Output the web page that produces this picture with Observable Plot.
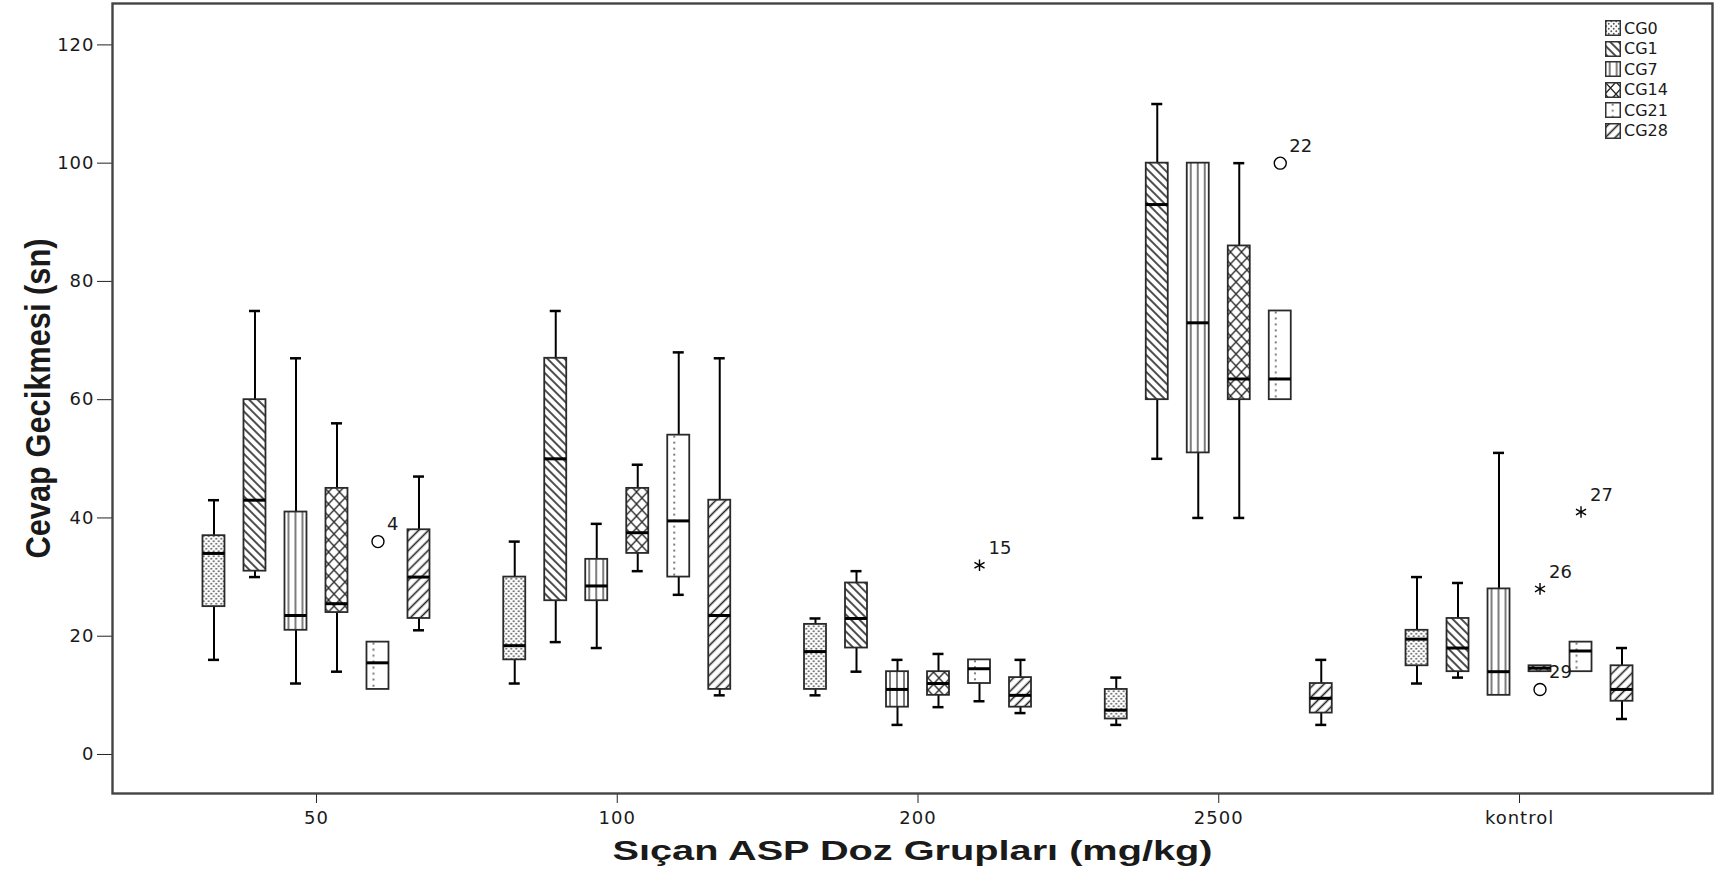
<!DOCTYPE html>
<html>
<head>
<meta charset="utf-8">
<script src="https://cdn.jsdelivr.net/npm/d3@7"></script>
<script src="https://cdn.jsdelivr.net/npm/@observablehq/plot@0.6"></script>
<style>
  body { margin: 0; background: #fff; overflow: hidden; }
  #wrap { position: relative; width: 1716px; height: 881px; }
  #wrap svg text { fill: #1a1a1a; }
  g[aria-label="y-axis tick label"] text,
  g[aria-label="x-axis tick label"] text { letter-spacing: 1px; }
  #legend { position: absolute; left: 1605px; top: 18px; font-family: "DejaVu Sans", sans-serif; font-size: 16px; color: #1a1a1a; }
  #legend .row { display: flex; align-items: center; height: 20.5px; }
  #legend svg { margin-right: 3px; }
</style>
</head>
<body>
<svg width="0" height="0" style="position:absolute">
  <defs>
    <!-- CG0: fine dot screen -->
    <pattern id="pat-dots" patternUnits="userSpaceOnUse" width="5" height="5">
      <rect width="5" height="5" fill="#fff"/>
      <circle cx="1.25" cy="1.25" r="0.95" fill="#555"/>
      <circle cx="3.75" cy="3.75" r="0.95" fill="#555"/>
    </pattern>
    <!-- CG1: back-slash hatching -->
    <pattern id="pat-back" patternUnits="userSpaceOnUse" width="6" height="6" patternTransform="rotate(-45)">
      <rect width="6" height="6" fill="#fff"/>
      <line x1="3" y1="-1" x2="3" y2="7" stroke="#222" stroke-width="1.6"/>
    </pattern>
    <!-- CG7: vertical stripes anchored to each box -->
    <pattern id="pat-vert" patternUnits="objectBoundingBox" x="0" y="0" width="1" height="1">
      <rect width="100" height="2000" fill="#fff"/>
      <line x1="4" y1="0" x2="4" y2="2000" stroke="#666" stroke-width="1.7"/>
      <line x1="11" y1="0" x2="11" y2="2000" stroke="#666" stroke-width="1.7"/>
      <line x1="18" y1="0" x2="18" y2="2000" stroke="#666" stroke-width="1.7"/>
    </pattern>
    <!-- CG14: diamond cross-hatch -->
    <pattern id="pat-cross" patternUnits="userSpaceOnUse" width="11" height="12">
      <rect width="11" height="12" fill="#fff"/>
      <path d="M0,0L11,12M11,0L0,12" stroke="#222" stroke-width="1.3" fill="none"/>
    </pattern>
    <!-- CG21: a single dotted line inside the box -->
    <pattern id="pat-dotline" patternUnits="objectBoundingBox" x="0" y="0" width="1" height="1">
      <rect width="100" height="2000" fill="#fff"/>
      <line x1="7" y1="1" x2="7" y2="2000" stroke="#666" stroke-width="1.7" stroke-dasharray="2 4"/>
    </pattern>
    <!-- CG28: forward-slash hatching -->
    <pattern id="pat-fwd" patternUnits="userSpaceOnUse" width="7" height="7" patternTransform="rotate(45)">
      <rect width="7" height="7" fill="#fff"/>
      <line x1="3.5" y1="-1" x2="3.5" y2="8" stroke="#222" stroke-width="1.6"/>
    </pattern>
  </defs>
</svg>
<div id="wrap"><div id="legend"></div></div>
<script>
// Dose groups and measurement days
const groups = ["50", "100", "200", "2500", "kontrol"];
const series = ["CG0", "CG1", "CG7", "CG14", "CG21", "CG28"];

// Box-plot summaries (seconds); rows follow `series`, columns follow `groups`
const whiskerLow = [
  [16, 12, 10, 5, 12],
  [30, 19, 14, 50, 13],
  [12, 18, 5, 40, 10],
  [14, 31, 8, 40, 14],
  [11, 27, 9, 60, 14],
  [21, 10, 7, 5, 6]
];
const quartile1 = [
  [25, 16, 11, 6, 15],
  [31, 26, 18, 60, 14],
  [21, 26, 8, 51, 10],
  [24, 34, 10, 60, 14],
  [11, 30, 12, 60, 14],
  [23, 11, 8, 7, 9]
];
const medians = [
  [34, 18.4, 17.4, 7.5, 19.5],
  [43, 50, 23, 93, 18],
  [23.5, 28.5, 11, 73, 14],
  [25.5, 37.5, 12, 63.5, 14.6],
  [15.5, 39.5, 14.5, 63.5, 17.5],
  [30, 23.5, 10, 9.5, 11]
];
const quartile3 = [
  [37, 30, 22, 11, 21],
  [60, 67, 29, 100, 23],
  [41, 33, 14, 100, 28],
  [45, 45, 14, 86, 15],
  [19, 54, 16, 75, 19],
  [38, 43, 13, 12, 15]
];
const whiskerHigh = [
  [43, 36, 23, 13, 30],
  [75, 75, 31, 110, 29],
  [67, 39, 16, 100, 51],
  [56, 49, 17, 100, 15],
  [19, 68, 16, 75, 19],
  [47, 67, 16, 16, 18]
];

// Individually flagged cases
const outlierGroup  = ["50", "200", "2500", "kontrol", "kontrol", "kontrol"];
const outlierSeries = ["CG21", "CG21", "CG21", "CG14", "CG14", "CG21"];
const outlierValue  = [36, 32, 100, 28, 11, 41];
const outlierLabel  = ["4", "15", "22", "26", "29", "27"];
const outlierKind   = ["circle", "star", "circle", "star", "circle", "star"];

const yTicks = [0, 20, 40, 60, 80, 100, 120];
const yTitle = "Cevap Gecikmesi (sn)";
const xTitle = "Sıçan ASP Doz Grupları (mg/kg)";

const fills = ["url(#pat-dots)", "url(#pat-back)", "url(#pat-vert)", "url(#pat-cross)", "url(#pat-dotline)", "url(#pat-fwd)"];

// geometry of the grouped boxes
const xRange = [165.6, 1669.4];
const bandW = (xRange[1] - xRange[0]) / groups.length;
const slot = 41, boxW = 22, capW = 11;
const boxInset = (bandW - boxW) / 2;
const capInset = (bandW - capW) / 2;
const offset = i => (i - (series.length - 1) / 2) * slot;

const marks = [];
series.forEach((s, i) => {
  const rows = groups.map((g, j) => ({
    group: g, series: s,
    lo: whiskerLow[i][j], q1: quartile1[i][j], med: medians[i][j],
    q3: quartile3[i][j], hi: whiskerHigh[i][j]
  }));
  const dx = offset(i);
  const low = rows.filter(r => r.lo < r.q1);
  const high = rows.filter(r => r.hi > r.q3);
  marks.push(
    Plot.ruleX(low, {x: "group", y1: "lo", y2: "q1", dx, stroke: "#000", strokeWidth: 2}),
    Plot.ruleX(high, {x: "group", y1: "q3", y2: "hi", dx, stroke: "#000", strokeWidth: 2}),
    Plot.tickY(low, {x: "group", y: "lo", dx, insetLeft: capInset, insetRight: capInset, stroke: "#000", strokeWidth: 2.5}),
    Plot.tickY(high, {x: "group", y: "hi", dx, insetLeft: capInset, insetRight: capInset, stroke: "#000", strokeWidth: 2.5}),
    Plot.barY(rows, {x: "group", y1: "q1", y2: "q3", dx, insetLeft: boxInset, insetRight: boxInset,
      fill: fills[i], stroke: "#2a2a2a", strokeWidth: 1.8}),
    Plot.tickY(rows, {x: "group", y: "med", dx, insetLeft: boxInset, insetRight: boxInset, stroke: "#000", strokeWidth: 3})
  );
});

outlierValue.forEach((v, k) => {
  const d = [{group: outlierGroup[k], value: v, label: outlierLabel[k]}];
  const dx = offset(series.indexOf(outlierSeries[k]));
  const star = outlierKind[k] === "star";
  marks.push(
    Plot.dot(d, {x: "group", y: "value", dx, r: star ? 5.5 : 6,
      symbol: star ? "asterisk" : "circle",
      fill: "none", stroke: "#000", strokeWidth: 1.4}),
    Plot.text(d, {x: "group", y: "value", text: "label", dx: dx + 9, dy: -17, textAnchor: "start",
      fontSize: 18, fontFamily: "DejaVu Sans"})
  );
});

const chart = Plot.plot({
  width: 1716,
  height: 881,
  marginLeft: 112,
  marginRight: 4,
  marginTop: 3,
  marginBottom: 88,
  style: {fontFamily: "DejaVu Sans, sans-serif", fontSize: "18px", background: "#fff"},
  x: {type: "band", domain: groups, range: xRange, padding: 0, round: false},
  y: {domain: [-6.6, 127]},
  marks: [
    Plot.axisY({ticks: yTicks, tickSize: 15, tickPadding: 3, label: null, stroke: "#222"}),
    Plot.axisX({tickSize: 10, tickPadding: 8, label: null, stroke: "#222"}),
    ...marks,
    Plot.frame({stroke: "#444", strokeWidth: 2.4}),
    Plot.text([yTitle], {frameAnchor: "left", dx: -74, rotate: -90, textAnchor: "middle",
      fontSize: 35, fontWeight: "bold", fontFamily: "Liberation Sans, sans-serif"}),
    Plot.text([xTitle], {frameAnchor: "bottom", dy: 66, textAnchor: "middle",
      fontSize: 27, fontWeight: "bold", fontFamily: "Liberation Sans, sans-serif"})
  ]
});
document.getElementById("wrap").prepend(chart);

// squeeze the rotated title and widen the horizontal one
for (const t of chart.querySelectorAll("text")) {
  if (t.textContent === yTitle) { t.setAttribute("textLength", 320); t.setAttribute("lengthAdjust", "spacingAndGlyphs"); }
  if (t.textContent === xTitle) { t.setAttribute("textLength", 600); t.setAttribute("lengthAdjust", "spacingAndGlyphs"); }
}

// legend
const legend = document.getElementById("legend");
series.forEach((s, i) => {
  const row = document.createElement("div");
  row.className = "row";
  row.innerHTML = `<svg width="16" height="16"><rect x="0.75" y="0.75" width="14.5" height="14.5" fill="${fills[i]}" stroke="#333" stroke-width="1.5"/></svg><span>${s}</span>`;
  legend.appendChild(row);
});
</script>
</body>
</html>
